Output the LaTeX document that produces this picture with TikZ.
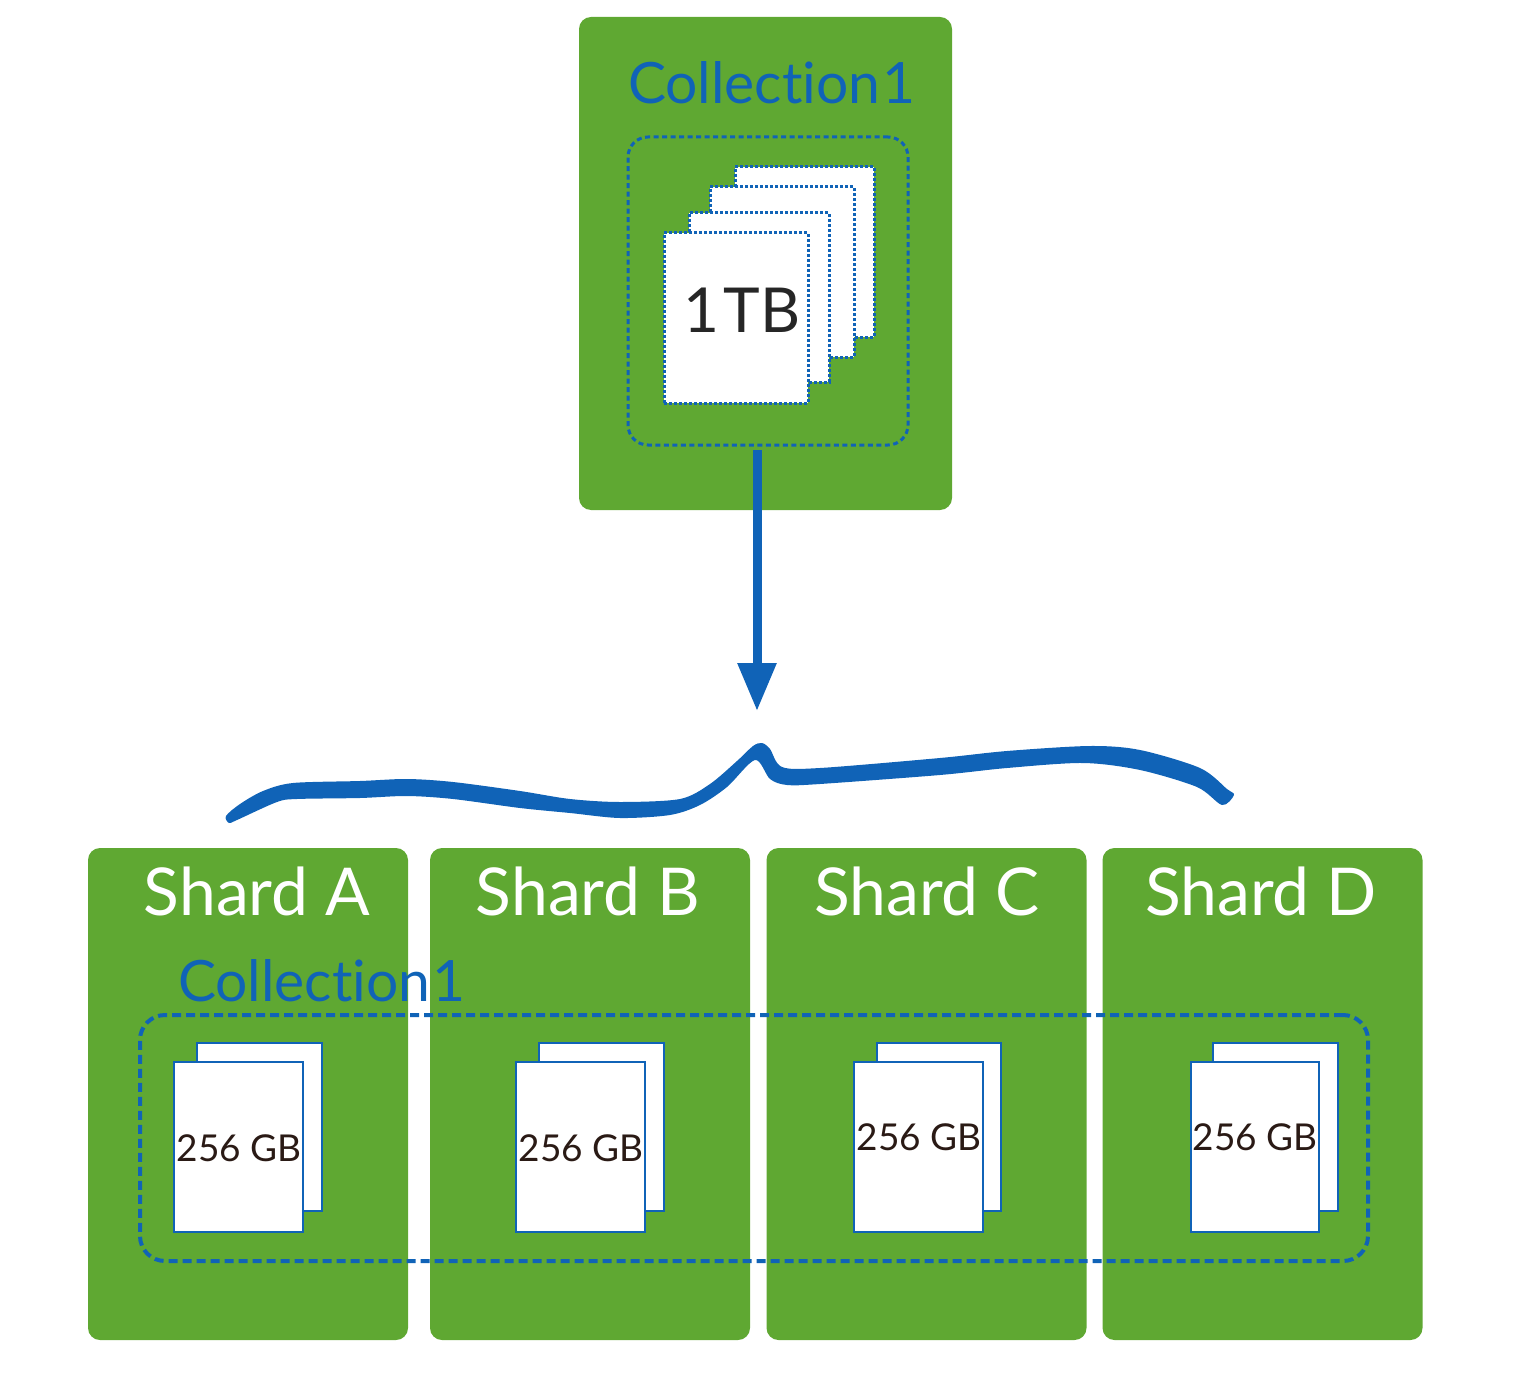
\documentclass[tikz,border=0pt]{standalone}
\usepackage{fontspec}
\setmainfont{Lato}[Ligatures=NoCommon]
\usetikzlibrary{arrows.meta}
\definecolor{shardgreen}{HTML}{5FA832}
\definecolor{mongoblue}{HTML}{1063B7}
\definecolor{sizebrown}{HTML}{2A1A15}
\begin{document}
\begin{tikzpicture}[
        x=1pt, y=-1pt,
        every node/.style = {outer sep=0pt, inner sep=0pt, align=center},
        greenbox/.style = {fill=shardgreen, rounded corners=12pt},
        shardbox/.style = {greenbox, minimum width=320pt, minimum height=492pt},
        shardtitle/.style = {text=white, font=\fontsize{66}{66}\selectfont},
        colltitle/.style = {anchor=west, text=mongoblue, font=\fontsize{57}{57}\selectfont},
        dotpage/.style = {draw=mongoblue, fill=white, line width=3pt, dash pattern=on 3pt off 2pt, minimum width=#1},
        gbpage/.style = {draw=mongoblue, fill=white, line width=2.6pt, minimum width=#1},
        gbtext/.style = {text=sizebrown, font=\fontsize{37}{37}\selectfont}
    ]

    \useasboundingbox (0,0) rectangle (1518,1380);

    % source collection
    \node[greenbox, minimum width=373pt, minimum height=493pt] (source) at (765.5,263.5) {};
    \node[colltitle] (sourcetitle) at (628,83) {Collection\kern-12pt\ 1};
    \node[draw=mongoblue, line width=3pt, dash pattern=on 5pt off 3.5pt, rounded corners=20pt, minimum width=280pt, minimum height=308pt] (sourcedata) at (768,291) {};
    \node[dotpage=139pt, minimum height=170pt] (chunkd) at (804.5,252) {};
    \node[dotpage=144pt, minimum height=170pt] (chunkc) at (782,272) {};
    \node[dotpage=140pt, minimum height=169pt] (chunkb) at (759,297.5) {};
    \node[dotpage=144pt, minimum height=170pt] (chunka) at (736,318) {};
    \node[text=black!85, font=\fontsize{62}{62}\selectfont] (sourcesize) at (742,310) {1\kern-12pt\ TB};

    % shards
    \node[shardbox] (sharda) at (248,1094) {};
    \node[shardbox] (shardb) at (590,1094) {};
    \node[shardbox] (shardc) at (926.5,1094) {};
    \node[shardbox] (shardd) at (1262.5,1094) {};
    \node[shardtitle] (titlea) at (257,891) {Shard A};
    \node[shardtitle] (titleb) at (588,891) {Shard B};
    \node[shardtitle] (titlec) at (927,891) {Shard C};
    \node[shardtitle] (titled) at (1261,891) {Shard D};

    \node[colltitle] (splittitle) at (178,981) {Collection\kern-12pt\ 1};
    \node[draw=mongoblue, line width=4pt, dash pattern=on 9pt off 5pt, rounded corners=25pt, minimum width=1228pt, minimum height=246pt] (splitdata) at (754,1138) {};

    \node[gbpage=125pt, minimum height=168pt] (backa) at (259.5,1127) {};
    \node[gbpage=129pt, minimum height=170pt] (fronta) at (238.5,1147) {};
    \node[gbtext] (sizea) at (239,1148) {256 GB};
    \node[gbpage=125pt, minimum height=168pt] (backb) at (601.5,1127) {};
    \node[gbpage=129pt, minimum height=170pt] (frontb) at (580.5,1147) {};
    \node[gbtext] (sizeb) at (581,1148) {256 GB};
    \node[gbpage=124pt, minimum height=168pt] (backc) at (939,1127) {};
    \node[gbpage=129pt, minimum height=170pt] (frontc) at (918.5,1147) {};
    \node[gbtext] (sizec) at (919,1137) {256 GB};
    \node[gbpage=125pt, minimum height=168pt] (backd) at (1275.5,1127) {};
    \node[gbpage=128pt, minimum height=170pt] (frontd) at (1255,1147) {};
    \node[gbtext] (sized) at (1255,1137) {256 GB};

    % split arrow and brace
    \coordinate (arrowstart) at (757,450);
    \coordinate (arrowend) at (757,711);
    \draw[mongoblue, line width=9pt, -{Triangle[length=48pt, width=37pt]}] (arrowstart) -- (arrowend);

    \fill[mongoblue] plot[smooth cycle, tension=0.5] coordinates {
        (226,816) (240,804) (263,791) (293,783) (360,781) (407,779) (453,782) (520,791)
        (570,799) (620,802) (680,799) (710,784) (737,761) (753,746) (762,743) (770,749)
        (782,767) (820,768) (940,758) (1007,751) (1090,746) (1140,750) (1200,768) (1227,789)
        (1234,795) (1222,805) (1197,787) (1140,770) (1083,763) (1007,768) (940,775) (820,784)
        (787,785) (770,779) (755,760) (727,787) (700,805) (670,815) (620,818) (570,813)
        (520,808) (453,799) (407,796) (360,798) (297,799) (277,802) (237,820) (229,823)
    };
\end{tikzpicture}
\end{document}
